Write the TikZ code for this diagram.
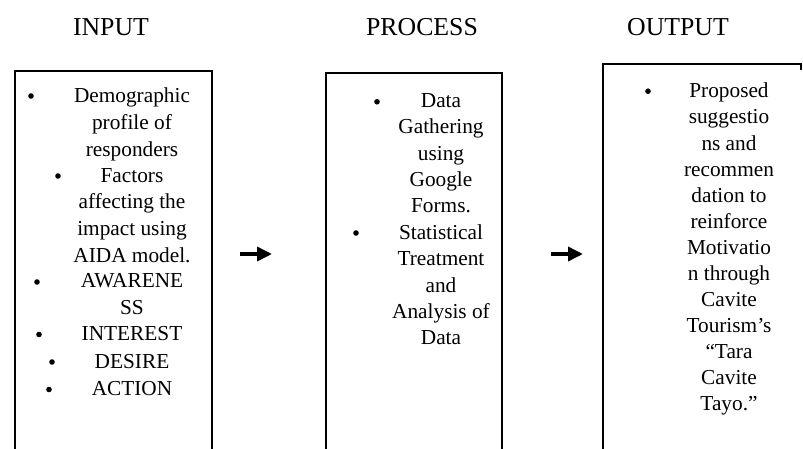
\documentclass[tikz,border=0pt]{standalone}
\usepackage{fontspec}
\setmainfont{Liberation Serif}
\usetikzlibrary{arrows.meta}
\begin{document}
\begin{tikzpicture}[x=0.5pt,y=-0.5pt,
  title/.style={font=\fontsize{12.9}{15}\selectfont, anchor=base, inner sep=0pt},
  itemtext/.style={font=\fontsize{10.65}{13.33}\selectfont, align=center, anchor=north, inner sep=0pt},
  bul/.style={circle, fill=black, inner sep=0pt, minimum size=2.8pt},
  boxline/.style={draw=black, line cap=rect},
  arr/.style={-{Triangle[length=7.5pt,width=7pt]}, line width=1.75pt}]
\useasboundingbox (0,0) rectangle (803,449);

% titles
\node[title] (tin)  at (111,36) {INPUT};
\node[title] (tpro) at (422,36) {PROCESS};
\node[title] (tout) at (678,36) {OUTPUT};

% boxes (open at the bottom)
\draw[boxline, line width=1.35pt] (15,452) -- (15,71) -- (212,71) -- (212,452);
\draw[boxline, line width=1.1pt] (326,452) -- (326,73) -- (502,73) -- (502,452);
\draw[boxline, line width=0.9pt] (603,452) -- (603,64) -- (801,64) -- (801,69);

% input items
\node[bul] (bi1) at (31,96) {};
\node[itemtext] (i1) at (132,87.7) {Demographic\\profile of\\responders};
\node[bul] (bi2) at (58,176) {};
\node[itemtext] (i2) at (132,167.7) {Factors\\affecting the\\impact using\\AIDA model.};
\node[bul] (bi3) at (37,282) {};
\node[itemtext] (i3) at (132,273.5) {AWARENE\\SS};
\node[bul] (bi4) at (39,334.5) {};
\node[itemtext] (i4) at (132,326) {INTEREST};
\node[bul] (bi5) at (52,362) {};
\node[itemtext] (i5) at (132,353.5) {DESIRE};
\node[bul] (bi6) at (49,389.5) {};
\node[itemtext] (i6) at (132,381) {ACTION};

% process items
\node[bul] (bp1) at (377,101.8) {};
\node[itemtext, font=\fontsize{10.65}{13.15}\selectfont] (p1) at (441,93.3) {Data\\Gathering\\using\\Google\\Forms.};
\node[bul] (bp2) at (356,233) {};
\node[itemtext, font=\fontsize{10.65}{13.15}\selectfont] (p2) at (441,224.5) {Statistical\\Treatment\\and\\Analysis of\\Data};

% output items
\node[bul] (bo1) at (648,91.2) {};
\node[itemtext, font=\fontsize{10.65}{13.03}\selectfont] (o1) at (729,82.7) {Proposed\\suggestio\\ns and\\recommen\\dation to\\reinforce\\Motivatio\\n through\\Cavite\\Tourism’s\\“Tara\\Cavite\\Tayo.”};

% arrows
\coordinate (a1s) at (240,254);
\coordinate (a1e) at (272,254);
\coordinate (a2s) at (551,254);
\coordinate (a2e) at (583,254);
\draw[arr] (a1s) -- (a1e);
\draw[arr] (a2s) -- (a2e);
\end{tikzpicture}
\end{document}
